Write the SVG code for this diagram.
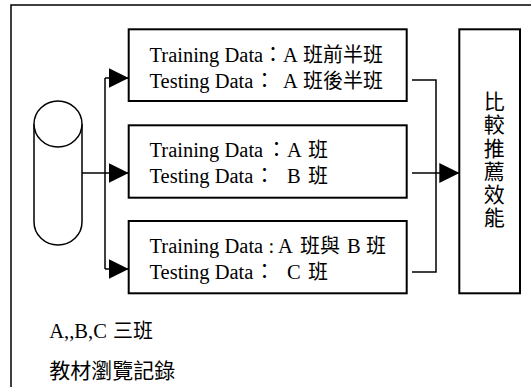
<svg xmlns="http://www.w3.org/2000/svg" width="531" height="387" viewBox="0 0 531 387">
<style>
.frame{fill:none;stroke:#000;stroke-width:1.5}
.box{fill:#fff;stroke:#000;stroke-width:2}
.ln{fill:none;stroke:#000;stroke-width:1.5}
.t{font-family:"Liberation Serif","Noto Sans CJK TC",serif;font-size:20.5px;fill:#000}
.c{font-family:"Noto Sans CJK TC",sans-serif;font-size:20px}
.v{font-family:"Noto Sans CJK TC",sans-serif;font-size:21px;fill:#000;writing-mode:vertical-rl;letter-spacing:2.3px}
.cyl{fill:#fff;stroke:#000;stroke-width:1.5}
</style>
<defs>
<marker id="ah" markerWidth="20" markerHeight="20" refX="20" refY="10" orient="auto" markerUnits="userSpaceOnUse"><path d="M0,0 L20,10 L0,20 Z" fill="#000"/></marker>
</defs>
<rect class="frame" x="11" y="5" width="540" height="400"/>
<g id="database">
<path class="cyl" d="M34,124 L34,222 A24,23 0 0 0 82,222 L82,124"/>
<ellipse class="cyl" cx="58" cy="124" rx="24" ry="23"/>
</g>
<g id="connectors">
<path class="ln" d="M82,173 H128.7" marker-end="url(#ah)"/>
<path class="ln" d="M105,78 V269"/>
<path class="ln" d="M105,78 H128.7" marker-end="url(#ah)"/>
<path class="ln" d="M105,269 H128.7" marker-end="url(#ah)"/>
<path class="ln" d="M412,80 H436 V272 H412"/>
<path class="ln" d="M412,173 H459.3" marker-end="url(#ah)"/>
</g>
<g id="box1">
<rect class="box" x="128.7" y="29.3" width="278" height="71.7"/>
<text class="t" y="61.7"><tspan x="149.5">Training Data</tspan><tspan class="c" x="263">：</tspan><tspan x="283">A</tspan><tspan class="c" x="303">班前半班</tspan></text>
<text class="t" y="88.3"><tspan x="149.5">Testing Data</tspan><tspan class="c" x="254.5">：</tspan><tspan x="283">A</tspan><tspan class="c" x="303">班後半班</tspan></text>
</g>
<g id="box2">
<rect class="box" x="128.7" y="125.3" width="278" height="72.4"/>
<text class="t" y="156.7"><tspan x="149.5">Training Data</tspan><tspan class="c" x="266.5">：</tspan><tspan x="287">A</tspan><tspan class="c" x="308">班</tspan></text>
<text class="t" y="183.3"><tspan x="149.5">Testing Data</tspan><tspan class="c" x="254.5">：</tspan><tspan x="287">B</tspan><tspan class="c" x="308">班</tspan></text>
</g>
<g id="box3">
<rect class="box" x="128.7" y="221" width="278" height="72.3"/>
<text class="t" y="252.7"><tspan x="149.5">Training Data</tspan><tspan x="268.5">:</tspan><tspan x="278">A</tspan><tspan class="c" x="300">班與</tspan><tspan x="347">B</tspan><tspan class="c" x="366">班</tspan></text>
<text class="t" y="279.3"><tspan x="149.5">Testing Data</tspan><tspan class="c" x="254.5">：</tspan><tspan x="287">C</tspan><tspan class="c" x="308">班</tspan></text>
</g>
<g id="compare">
<rect class="box" x="459.3" y="29.3" width="60.7" height="264"/>
<text class="v" x="494.3" y="90.5">比較推薦效能</text>
</g>
<g id="legend">
<text class="t" y="338"><tspan x="49.3">A,,B,C</tspan><tspan class="c" x="113">三班</tspan></text>
<text class="t" x="49.3" y="378" style="font-family:'Noto Sans CJK TC',sans-serif;font-size:21px">教材瀏覽記錄</text>
</g>
</svg>
